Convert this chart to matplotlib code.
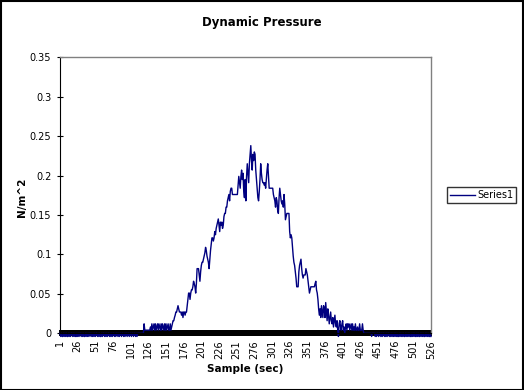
import numpy as np
import matplotlib
matplotlib.use("Agg")
import matplotlib.pyplot as plt
from matplotlib.patches import Rectangle
from matplotlib.ticker import FixedLocator

# dynamic pressure per sample (N/m^2), 25 samples per row
pressure = [
    0, -0.004, 0, -0.004, -0.004, 0, -0.004, 0, -0.004, 0, -0.004, -0.004, 0, -0.004, 0, -0.004, 0, 0, -0.004, 0, -0.004, 0, -0.004, -0.004, 0,  # 1-25
    -0.004, 0, -0.004, 0, 0, -0.004, 0, -0.004, 0, -0.004, -0.004, 0, -0.004, 0, -0.004, 0, -0.004, 0, 0, -0.004, 0, -0.004, 0, -0.004, 0,  # 26-50
    -0.004, 0, 0, -0.004, 0, -0.004, 0, -0.004, -0.004, 0, -0.004, 0, 0, -0.004, 0, -0.004, 0, -0.004, 0, 0, -0.004, 0, -0.004, 0, -0.004,  # 51-75
    0, 0, -0.004, 0, -0.004, 0, 0, -0.004, 0, -0.004, 0, 0, -0.004, 0, 0, -0.004, 0, -0.004, 0, 0, -0.004, 0, 0, -0.004, 0,  # 76-100
    0, -0.004, 0, 0, -0.004, 0, 0, -0.004, 0, -0.004, 0, 0, 0, 0, 0, 0, 0, 0, 0, 0.012, 0.004, 0.004, 0.004, 0.004, 0.004,  # 101-125
    0.004, 0.004, 0.004, 0.008, 0.004, 0.012, 0.004, 0.008, 0.012, 0.004, 0.012, 0.004, 0.008, 0.012, 0.004, 0.012, 0.008, 0.004, 0.012, 0.004, 0.012, 0.008, 0.004, 0.012, 0.004,  # 126-150
    0.012, 0.004, 0.008, 0.012, 0.004, 0.004, 0.012, 0.004, 0.008, 0.012, 0.016, 0.016, 0.020, 0.023, 0.027, 0.027, 0.031, 0.035, 0.031, 0.027, 0.027, 0.027, 0.023, 0.027, 0.020,  # 151-175
    0.027, 0.027, 0.023, 0.027, 0.027, 0.035, 0.043, 0.051, 0.051, 0.043, 0.051, 0.055, 0.055, 0.059, 0.066, 0.063, 0.059, 0.051, 0.063, 0.082, 0.082, 0.082, 0.074, 0.066, 0.078,  # 176-200
    0.086, 0.090, 0.090, 0.094, 0.098, 0.102, 0.109, 0.105, 0.098, 0.094, 0.090, 0.082, 0.094, 0.105, 0.113, 0.121, 0.121, 0.117, 0.121, 0.129, 0.125, 0.133, 0.137, 0.141, 0.145,  # 201-225
    0.137, 0.129, 0.141, 0.137, 0.141, 0.133, 0.137, 0.148, 0.152, 0.152, 0.160, 0.160, 0.168, 0.172, 0.176, 0.168, 0.180, 0.184, 0.184, 0.176, 0.176, 0.176, 0.176, 0.176, 0.176,  # 226-250
    0.176, 0.176, 0.188, 0.199, 0.191, 0.184, 0.199, 0.207, 0.195, 0.203, 0.180, 0.172, 0.195, 0.168, 0.199, 0.215, 0.203, 0.191, 0.215, 0.227, 0.238, 0.219, 0.207, 0.227, 0.219,  # 251-275
    0.230, 0.227, 0.207, 0.195, 0.184, 0.172, 0.168, 0.180, 0.195, 0.215, 0.203, 0.195, 0.191, 0.191, 0.188, 0.191, 0.184, 0.195, 0.207, 0.215, 0.199, 0.184, 0.184, 0.184, 0.184,  # 276-300
    0.184, 0.184, 0.176, 0.172, 0.168, 0.160, 0.172, 0.168, 0.156, 0.152, 0.172, 0.184, 0.176, 0.168, 0.164, 0.168, 0.160, 0.176, 0.164, 0.144, 0.148, 0.152, 0.152, 0.152, 0.152,  # 301-325
    0.129, 0.121, 0.125, 0.121, 0.109, 0.098, 0.090, 0.086, 0.078, 0.070, 0.059, 0.059, 0.059, 0.078, 0.086, 0.090, 0.094, 0.082, 0.074, 0.070, 0.074, 0.074, 0.074, 0.082, 0.078,  # 326-350
    0.074, 0.066, 0.059, 0.051, 0.055, 0.059, 0.059, 0.059, 0.059, 0.059, 0.059, 0.063, 0.066, 0.055, 0.051, 0.043, 0.031, 0.023, 0.031, 0.020, 0.035, 0.027, 0.020, 0.035, 0.031,  # 351-375
    0.020, 0.039, 0.027, 0.016, 0.031, 0.023, 0.012, 0.020, 0.027, 0.016, 0.012, 0.020, 0.008, 0.016, 0.023, 0.012, 0.008, 0.016, 0.004, -0.004, 0.012, 0.016, 0.008, 0.004, 0.012,  # 376-400
    0.016, 0.004, 0.008, 0, 0.008, 0.012, 0.004, 0.012, 0.008, 0.012, 0.004, 0.008, 0.012, 0.004, 0.012, 0.004, 0.008, 0.004, 0.012, 0.004, 0.004, 0.008, 0.004, 0.004, 0.012,  # 401-425
    0.004, 0.004, 0.004, 0.012, 0.004, 0, 0, 0, 0, 0, 0, 0, 0, 0, 0, 0, -0.004, 0, 0, 0, 0, -0.004, 0, -0.004, 0,  # 426-450
    0, -0.004, 0, 0, -0.004, 0, -0.004, 0, 0, -0.004, 0, -0.004, 0, -0.004, 0, 0, -0.004, 0, -0.004, 0, -0.004, 0, -0.004, 0, -0.004,  # 451-475
    0, -0.004, 0, -0.004, -0.004, 0, -0.004, 0, -0.004, 0, -0.004, 0, -0.004, -0.004, 0, -0.004, 0, -0.004, 0, -0.004, 0, -0.004, -0.004, 0, -0.004,  # 476-500
    0, -0.004, 0, -0.004, -0.004, 0, -0.004, 0, -0.004, -0.004, 0, -0.004, 0, -0.004, 0, -0.004, -0.004, 0, -0.004, 0, -0.004, 0, -0.004, -0.004, 0, -0.004,  # 501-526
]
samples = list(range(1, len(pressure) + 1))
x_labels = list(range(1, 527, 25))
y_ticks = [0, 0.05, 0.1, 0.15, 0.2, 0.25, 0.3, 0.35]

fig = plt.figure(figsize=(5.24, 3.9), dpi=100)
ax = fig.add_axes([60 / 524, 1 - 333.3 / 390, 371 / 524, 276 / 390])

# line sits under the axis so the tick band stays black
line, = ax.plot(samples, pressure, color="#000080", lw=1.0, label="Series1",
                clip_on=False, zorder=2)

ax.set_xlim(1, 526)
ax.set_ylim(0, 0.35)
ax.set_yticks(y_ticks)
ax.set_yticklabels(["0", "0.05", "0.1", "0.15", "0.2", "0.25", "0.3", "0.35"])
ax.set_xticks(x_labels)
ax.set_xticklabels([str(v) for v in x_labels], rotation=90)
# a tick mark at every sample: they run together into the black band
ax.xaxis.set_minor_locator(FixedLocator(samples))

ax.tick_params(axis="x", which="both", direction="inout", length=4.5, width=1.4,
               color="black", labelsize=7, pad=2.5)
ax.tick_params(axis="y", direction="inout", length=4.5, width=0.8, labelsize=7, pad=4)

for side in ["top", "right"]:
    ax.spines[side].set_color("#808080")
    ax.spines[side].set_linewidth(1)
ax.spines["left"].set_color("black")
ax.spines["bottom"].set_color("black")

fig.text(0.5, 1 - 22.7 / 390, "Dynamic Pressure", ha="center", va="center",
         fontsize=8.5, fontweight="bold")
fig.text(245 / 524, 1 - 369 / 390, "Sample (sec)", ha="center", va="center",
         fontsize=7.5, fontweight="bold")
fig.text(21.7 / 524, 1 - 197 / 390, "N/m^2", ha="center", va="center",
         rotation=90, fontsize=7.5, fontweight="bold")

leg = fig.legend(handles=[line], loc="center left",
                 bbox_to_anchor=(447 / 524, 1 - 195.3 / 390), fontsize=7,
                 frameon=True, fancybox=False, shadow=False, borderpad=0.3,
                 handlelength=2.6, handletextpad=0.2, borderaxespad=0)
leg.get_frame().set_edgecolor("black")
leg.get_frame().set_linewidth(1)

# black border round the whole picture
fig.patches.append(Rectangle((0.001, 0.001), 0.997, 0.997, transform=fig.transFigure,
                             fill=False, edgecolor="black", lw=1.5))

fig.savefig("out.png", dpi=100)
